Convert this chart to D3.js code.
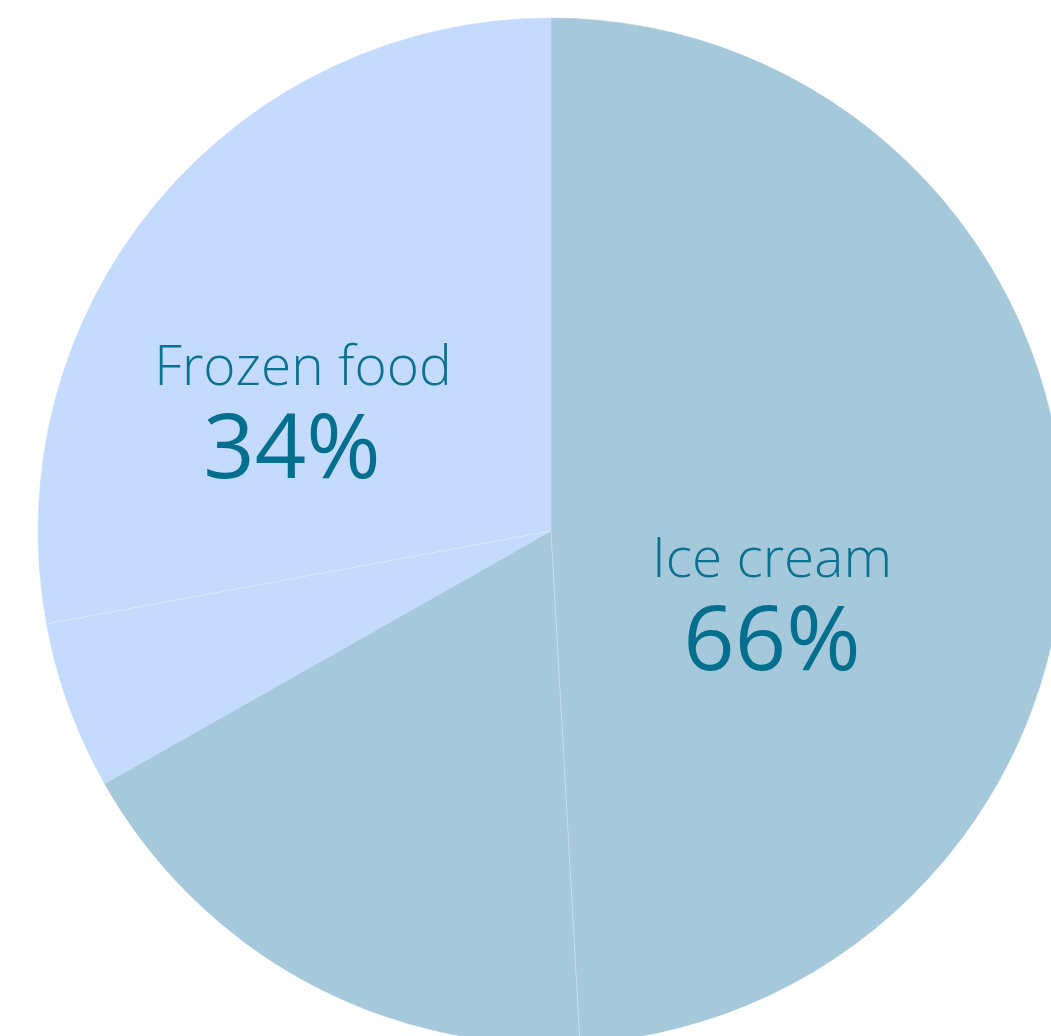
<!DOCTYPE html>
<meta charset="utf-8">
<style>
	body { margin: 0; background: #fff; }
	text { font-family: "Open Sans", "Noto Sans", sans-serif; }
</style>
<div id="vis-pie"></div>
<script src="https://cdn.jsdelivr.net/npm/d3@7"></script>
<script>
	// slices, clockwise from 12 o'clock
	const sliceGroup = ['Ice cream', 'Ice cream', 'Frozen food', 'Frozen food']
	const sliceValue = [49.1, 17.7, 5.3, 27.9]

	// labels
	const categories = ['Ice cream', 'Frozen food']
	const shares = [66, 34]

	const width = 1051,
		height = 1036;
	const cx = 551, cy = 531, radius = 513;

	const color = d3.scaleOrdinal()
		.domain(categories)
		.range(['#a5c9da', '#c5dbfe'])

	const svg = d3.select('#vis-pie')
		.append('svg')
		.attr('width', width)
		.attr('height', height);

	const g = svg.append('g')
		.attr('transform', 'translate(' + cx + ',' + cy + ')');

	const pie = d3.pie().sort(null).value(d => d)
	const arc = d3.arc().innerRadius(0).outerRadius(radius)

	const arcs = pie(sliceValue)

	g.selectAll('path.slice').data(arcs)
		.enter()
		.append('path')
		.attr('class', 'slice')
		.attr('d', arc)
		.attr('fill', (d, i) => color(sliceGroup[i]))
		.attr('stroke', (d, i) => color(sliceGroup[i]))
		.attr('stroke-width', 0.5);

	// faint separators between slices of the same group
	const inner = arcs.filter((d, i) => i > 0 && sliceGroup[i] == sliceGroup[i - 1])
	g.selectAll('line.sep').data(inner)
		.enter()
		.append('line')
		.attr('class', 'sep')
		.attr('x1', 0).attr('y1', 0)
		.attr('x2', d => radius * Math.sin(d.startAngle))
		.attr('y2', d => -radius * Math.cos(d.startAngle))
		.attr('stroke', '#ffffff')
		.attr('stroke-opacity', 0.5)
		.attr('stroke-width', 0.7);

	// label anchors (offset from pie centre)
	const labelAt = { 'Ice cream': [221, 46], 'Frozen food': [-248, -146] }
	const numberDx = { 'Ice cream': 0, 'Frozen food': -11 }

	categories.forEach((c, i) => {
		const [lx, ly] = labelAt[c]
		g.append('text')
			.attr('x', lx)
			.attr('y', ly)
			.attr('text-anchor', 'middle')
			.attr('fill', '#087290')
			.attr('font-weight', 300)
			.attr('font-size', 55)
			.text(c);
		g.append('text')
			.attr('x', lx + numberDx[c])
			.attr('y', ly + 93)
			.attr('text-anchor', 'middle')
			.attr('fill', '#036f8e')
			.attr('font-weight', 400)
			.attr('font-size', 90)
			.text(shares[i] + '%');
	})
</script>
